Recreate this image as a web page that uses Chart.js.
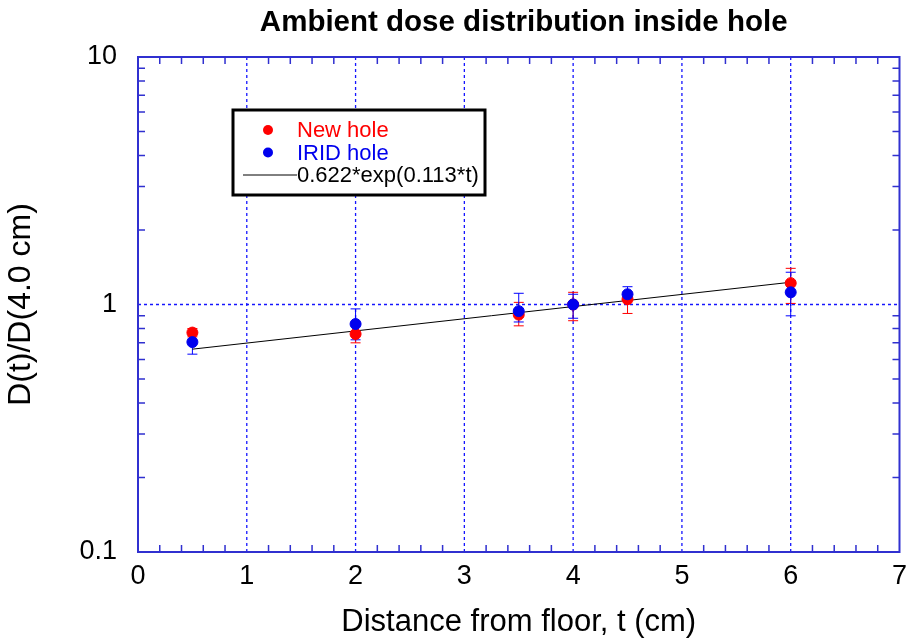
<!DOCTYPE html>
<html>
<head>
<meta charset="utf-8">
<script src="https://cdn.jsdelivr.net/npm/chart.js@4/dist/chart.umd.min.js"></script>
<style>
	html, body { margin: 0; padding: 0; background: #fff; }
	#wrap { width: 915px; height: 642px; }
</style>
</head>
<body>
<div id="wrap"><canvas id="chart"></canvas></div>
<script>
// distance from floor (cm)
const distance = [0.5, 2, 3.5, 4, 4.5, 6];

// New hole
const newHole = [0.77, 0.76, 0.91, 1.0, 1.05, 1.22];
const newLow = [0.74, 0.70, 0.82, 0.86, 0.92, 1.01];
const newHigh = [0.80, 0.84, 1.02, 1.12, 1.12, 1.40];

// IRID hole
const iridHole = [0.705, 0.834, 0.94, 1.0, 1.10, 1.12];
const iridLow = [0.63, 0.72, 0.85, 0.88, 1.04, 0.90];
const iridHigh = [0.76, 0.96, 1.11, 1.10, 1.18, 1.35];

// fit line end points
const fitX = [0.5, 6];
const fitY = [0.66, 1.23];

const xTicks = [0, 1, 2, 3, 4, 5, 6, 7];
const yTicks = [0.1, 1, 10];

const TITLE = 'Ambient dose distribution inside hole';
const BLUE = '#1515ff';
const FRAME = '#3030d0';
const FONT = "'Liberation Sans', Arial, sans-serif";

function pts(xs, ys) {
	return xs.map((x, i) => ({ x: x, y: ys[i] }));
}

// grid, error bars, frame, minor ticks, title and legend box
const extras = {
	id: 'extras',
	beforeDatasetsDraw(chart) {
		const ctx = chart.ctx;
		const a = chart.chartArea;
		const xs = chart.scales.x, ys = chart.scales.y;
		ctx.save();

		// dashed grid at major ticks
		ctx.strokeStyle = BLUE;
		ctx.lineWidth = 1.3;
		ctx.setLineDash([3, 3]);
		ctx.beginPath();
		xTicks.slice(1, -1).forEach((v) => {
			const px = xs.getPixelForValue(v);
			ctx.moveTo(px, a.top); ctx.lineTo(px, a.bottom);
		});
		yTicks.slice(1, -1).forEach((v) => {
			const py = ys.getPixelForValue(v);
			ctx.moveTo(a.left, py); ctx.lineTo(a.right, py);
		});
		ctx.stroke();
		ctx.setLineDash([]);

		// error bars
		const sets = [
			{ color: '#ff0000', low: newLow, high: newHigh },
			{ color: '#0000ff', low: iridLow, high: iridHigh }
		];
		ctx.lineWidth = 1;
		sets.forEach((s) => {
			ctx.strokeStyle = s.color;
			distance.forEach((d, i) => {
				const px = xs.getPixelForValue(d);
				const y1 = ys.getPixelForValue(s.low[i]);
				const y2 = ys.getPixelForValue(s.high[i]);
				ctx.beginPath();
				ctx.moveTo(px, y1); ctx.lineTo(px, y2);
				ctx.moveTo(px - 5, y1); ctx.lineTo(px + 5, y1);
				ctx.moveTo(px - 5, y2); ctx.lineTo(px + 5, y2);
				ctx.stroke();
			});
		});
		ctx.restore();
	},
	afterDraw(chart) {
		const ctx = chart.ctx;
		const a = chart.chartArea;
		const xs = chart.scales.x, ys = chart.scales.y;
		ctx.save();
		ctx.strokeStyle = FRAME;
		ctx.lineWidth = 2;
		ctx.strokeRect(a.left, a.top, a.right - a.left, a.bottom - a.top);

		// minor ticks
		ctx.lineWidth = 1.5;
		ctx.beginPath();
		for (let v = 0.2; v < 7; v += 0.2) {
			if (Math.abs(v - Math.round(v)) < 0.01) continue;
			const px = xs.getPixelForValue(v);
			ctx.moveTo(px, a.bottom); ctx.lineTo(px, a.bottom - 7);
			ctx.moveTo(px, a.top); ctx.lineTo(px, a.top + 7);
		}
		[0.1, 1].forEach((dec) => {
			for (let m = 2; m <= 9; m++) {
				const py = ys.getPixelForValue(dec * m);
				ctx.moveTo(a.left, py); ctx.lineTo(a.left + 7, py);
				ctx.moveTo(a.right, py); ctx.lineTo(a.right - 7, py);
			}
		});
		ctx.stroke();

		// title, centred on the plot area
		ctx.fillStyle = '#000';
		ctx.font = 'bold 29.5px ' + FONT;
		ctx.textAlign = 'center';
		ctx.textBaseline = 'middle';
		ctx.fillText(TITLE, (a.left + a.right) / 2 + 5, 23);

		// legend
		const bx = 233, by = 110, bw = 252, bh = 85;
		ctx.fillStyle = '#fff';
		ctx.fillRect(bx, by, bw, bh);
		ctx.strokeStyle = '#000';
		ctx.lineWidth = 3;
		ctx.strokeRect(bx, by, bw, bh);
		ctx.font = '22px ' + FONT;
		ctx.textAlign = 'left';
		const items = chart.data.datasets;
		[items[1], items[2], items[0]].forEach((ds, i) => {
			const y = by + 20 + i * 22.5;
			if (ds.showLine) {
				ctx.strokeStyle = '#000';
				ctx.lineWidth = 1;
				ctx.beginPath();
				ctx.moveTo(bx + 10, y); ctx.lineTo(bx + 64, y);
				ctx.stroke();
			} else {
				ctx.fillStyle = ds.backgroundColor;
				ctx.beginPath();
				ctx.arc(bx + 35, y, 5, 0, Math.PI * 2);
				ctx.fill();
			}
			ctx.fillStyle = ds.showLine ? '#000' : ds.backgroundColor;
			ctx.fillText(ds.label, bx + 64, y + 1);
		});
		ctx.restore();
	}
};

const config = {
	type: 'scatter',
	data: {
		datasets: [
			{
				label: '0.622*exp(0.113*t)',
				data: pts(fitX, fitY),
				showLine: true,
				borderColor: '#000',
				borderWidth: 1,
				pointRadius: 0,
				order: 3
			},
			{
				label: 'New hole',
				data: pts(distance, newHole),
				backgroundColor: '#ff0000',
				borderColor: '#ff0000',
				pointRadius: 5.5,
				order: 2
			},
			{
				label: 'IRID hole',
				data: pts(distance, iridHole),
				backgroundColor: '#0000ee',
				borderColor: '#0000ee',
				pointRadius: 5.5,
				order: 1
			}
		]
	},
	options: {
		responsive: true,
		maintainAspectRatio: false,
		animation: false,
		layout: { padding: { top: 57, right: 10, left: 0, bottom: 0 } },
		plugins: {
			legend: { display: false },
			tooltip: { enabled: false },
			title: { display: false }
		},
		scales: {
			x: {
				type: 'linear',
				min: 0,
				max: 7,
				afterFit(scale) { scale.height = 90; },
				afterBuildTicks(scale) { scale.ticks = xTicks.map((v) => ({ value: v })); },
				ticks: { color: '#000', font: { family: FONT, size: 27 }, padding: 8 },
				grid: { display: false, drawTicks: false },
				border: { display: false },
				title: {
					display: true,
					text: 'Distance from floor, t (cm)',
					color: '#000',
					font: { family: FONT, size: 31 },
					padding: { top: 0, bottom: 1 }
				}
			},
			y: {
				type: 'logarithmic',
				min: 0.1,
				max: 10,
				afterFit(scale) { scale.width = 138; },
				afterBuildTicks(scale) { scale.ticks = yTicks.map((v) => ({ value: v })); },
				ticks: {
					color: '#000',
					font: { family: FONT, size: 27 },
					padding: 21,
					callback: (v) => String(v)
				},
				grid: { display: false, drawTicks: false },
				border: { display: false },
				title: {
					display: true,
					text: 'D(t)/D(4.0 cm)',
					color: '#000',
					font: { family: FONT, size: 32 },
					padding: { top: 2, bottom: 0 }
				}
			}
		}
	},
	plugins: [extras]
};

document.addEventListener('DOMContentLoaded', function () {
	new Chart(document.getElementById('chart').getContext('2d'), config);
});
</script>
</body>
</html>
